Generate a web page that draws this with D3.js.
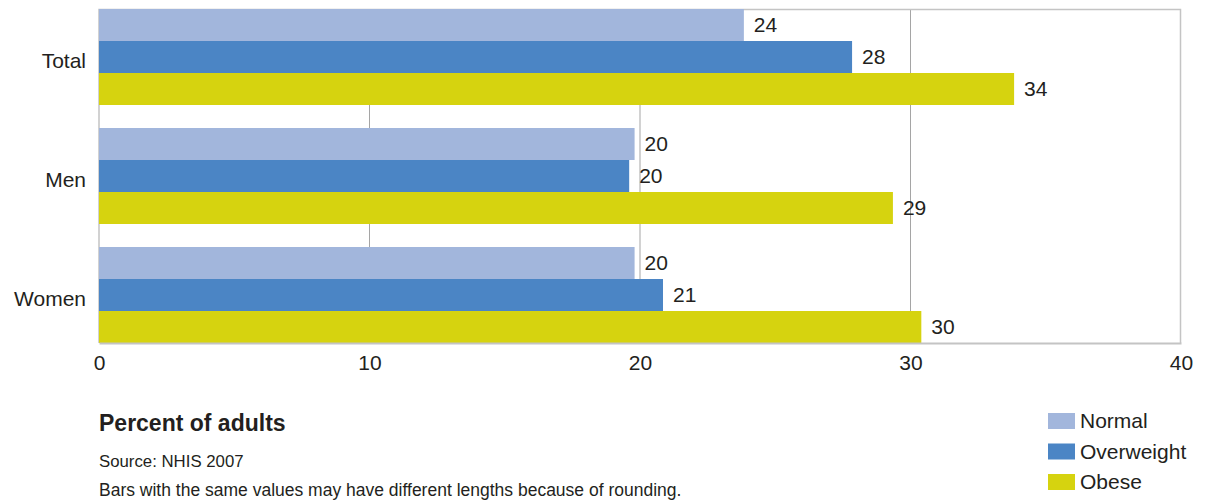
<!DOCTYPE html>
<html>
<head>
<meta charset="utf-8">
<script src="https://cdn.jsdelivr.net/npm/d3@7"></script>
<style>
  html, body { margin: 0; padding: 0; background: #fff; }
  svg { display: block; font-family: "Liberation Sans", Arial, sans-serif; }
</style>
</head>
<body>
<svg id="chart" width="1209" height="503"></svg>
<script>
const categories = ["Total", "Men", "Women"];
const seriesNames = ["Normal", "Overweight", "Obese"];
const normalValues = [23.84, 19.8, 19.8];
const overweightValues = [27.84, 19.6, 20.85];
const obeseValues = [33.83, 29.35, 30.4];
const xTicks = [0, 10, 20, 30, 40];
const colors = ["#a2b6dc", "#4b85c5", "#d6d30f"];
const titleText = "Percent of adults";
const sourceText = "Source: NHIS 2007";
const noteText = "Bars with the same values may have different lengths because of rounding.";

(function () {
const seriesValues = [normalValues, overweightValues, obeseValues];

const svg = d3.select("#chart");
const pLeft = 99, pRight = 1181, pTop = 9, pBottom = 343;
const textColor = "#231f20";

const x = d3.scaleLinear().domain([0, 40]).range([pLeft, pRight]);
const y0 = d3.scaleBand().domain(categories)
  .range([pTop, pBottom]).paddingInner(23 / 119).paddingOuter(0);
const y1 = d3.scaleBand().domain(seriesNames).range([0, y0.bandwidth()]);

// gridlines
svg.append("g").selectAll("line").data(xTicks.filter(t => t > 0 && t < 40)).join("line")
  .attr("x1", d => x(d)).attr("x2", d => x(d))
  .attr("y1", pTop).attr("y2", pBottom)
  .attr("stroke", "#a5a5a5").attr("stroke-width", 1);

// frame (top, right, left)
svg.append("path")
  .attr("d", `M${pLeft},${pBottom} V${pTop + 0.5} H${pRight - 0.5} V${pBottom}`)
  .attr("fill", "none").attr("stroke", "#c4c4c4").attr("stroke-width", 1.5);

// bars
const rows = [];
categories.forEach((c, i) => {
  seriesNames.forEach((s, j) => {
    rows.push({ cat: c, series: s, value: seriesValues[j][i], color: colors[j] });
  });
});

svg.append("g").selectAll("rect").data(rows).join("rect")
  .attr("x", x(0))
  .attr("y", d => y0(d.cat) + y1(d.series))
  .attr("width", d => x(d.value) - x(0))
  .attr("height", y1.bandwidth())
  .attr("fill", d => d.color);

// value labels
svg.append("g").selectAll("text").data(rows).join("text")
  .attr("x", d => x(d.value) + 10)
  .attr("y", d => y0(d.cat) + y1(d.series) + y1.bandwidth() / 2)
  .attr("dy", "0.35em")
  .attr("font-size", 21)
  .attr("fill", textColor)
  .text(d => Math.round(d.value));

// x axis
const xAxis = d3.axisBottom(x).tickValues(xTicks).tickSize(0).tickPadding(12).tickFormat(d3.format("d"));
const gx = svg.append("g").attr("transform", `translate(0,${pBottom})`).call(xAxis);
gx.attr("font-family", null).attr("font-size", null);
gx.select(".domain").attr("stroke", "#c4c4c4").attr("stroke-width", 2);
gx.selectAll("text").attr("font-size", 21).attr("fill", textColor);

// y category labels
svg.append("g").selectAll("text").data(categories).join("text")
  .attr("x", pLeft - 13)
  .attr("y", d => y0(d) + y0.bandwidth() / 2 + 11)
  .attr("text-anchor", "end")
  .attr("font-size", 21)
  .attr("fill", textColor)
  .text(d => d);

// titles
svg.append("text").attr("x", 99).attr("y", 431).attr("font-size", 23).attr("font-weight", "bold")
  .attr("fill", textColor).text(titleText);
svg.append("text").attr("x", 99).attr("y", 467).attr("font-size", 16.8)
  .attr("fill", textColor).text(sourceText);
svg.append("text").attr("x", 99).attr("y", 496).attr("font-size", 17.5)
  .attr("fill", textColor).text(noteText);

// legend
const legend = svg.append("g").selectAll("g").data(seriesNames).join("g")
  .attr("transform", (d, i) => `translate(1048,${413 + i * 30.5})`);
legend.append("rect").attr("width", 27).attr("height", 16).attr("fill", (d, i) => colors[i]);
legend.append("text").attr("x", 32).attr("y", 8).attr("dy", "0.35em")
  .attr("font-size", 21).attr("fill", textColor).text(d => d);
})();
</script>
</body>
</html>
